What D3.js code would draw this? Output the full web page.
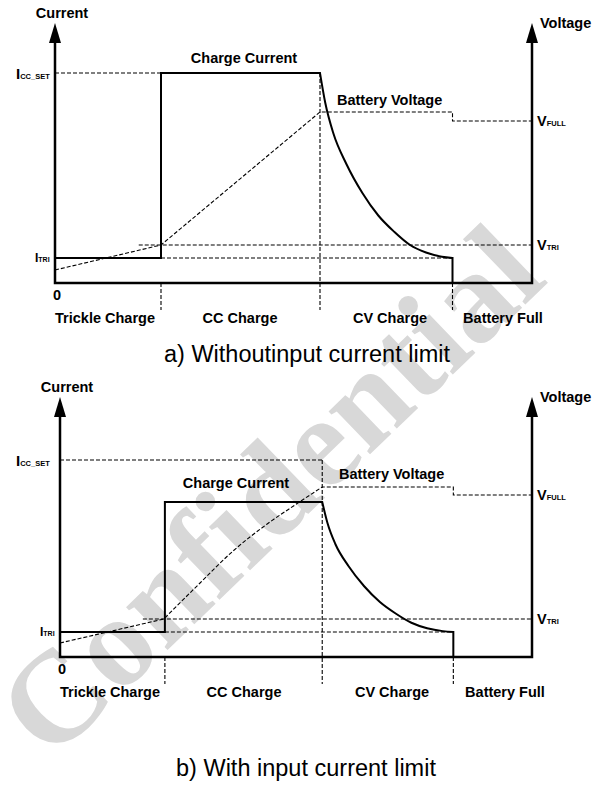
<!DOCTYPE html>
<html><head><meta charset="utf-8">
<script src="https://cdn.jsdelivr.net/npm/d3@7"></script>
<style>
body{margin:0;background:#fff}
svg{display:block}
text{font-family:"Liberation Sans",Arial,sans-serif}
</style>
</head><body>
<svg id="c" width="602" height="785"></svg>
<script>
// ---------- data ----------
const phaseBounds = [0, 2, 5, 7.5, 9];
const phaseLabels = ["Trickle Charge", "CC Charge", "CV Charge", "Battery Full"];
const captions = ["a) Withoutinput current limit", "b) With input current limit"];
const iTri = 1.0;
const vTri = 1.52;
const vFull = 6.48;
const iccSetA = 8.4, chargeA = 8.4;
const iccSetB = 7.88, chargeB = 6.2;
const cvTimeA = [5, 5.1, 5.25, 5.5, 5.8, 6.1, 6.4, 6.7, 7.0, 7.3, 7.5];
const cvCurrentA = [8.4, 7.2, 6.0, 4.75, 3.6, 2.7, 2.05, 1.52, 1.22, 1.05, 1.0];
const cvTimeB = [5, 5.1, 5.25, 5.5, 5.8, 6.1, 6.4, 6.7, 7.0, 7.3, 7.5];
const cvCurrentB = [6.2, 5.36, 4.52, 3.64, 2.83, 2.2, 1.74, 1.37, 1.15, 1.035, 1.0];
const voltTimeA = [0, 2, 5, 7.5, 7.5, 9];
const voltA = [0.52, 1.52, 6.84, 6.84, 6.48, 6.48];
const voltTimeB = [0, 1.98, 2.67, 3.30, 3.95, 4.48, 5.0, 7.5, 7.5, 9];
const voltB = [0.56, 1.52, 2.96, 4.24, 5.32, 6.08, 6.8, 6.8, 6.48, 6.48];

// ---------- drawing ----------
const svg = d3.select("#c");

// watermark
svg.append("text")
  .attr("transform", "translate(300,522) rotate(-44)")
  .attr("text-anchor", "middle")
  .style("font-family", "'Liberation Serif','DejaVu Serif',serif")
  .style("font-weight", "bold")
  .style("font-size", "130px")
  .attr("fill", "#d8d8d8")
  .text("Confidential");

const panels = [
  {dy: 0, left: 55, icc: iccSetA, cc: chargeA, iccEnd: phaseBounds[1],
   cvT: cvTimeA, cvI: cvCurrentA, vT: voltTimeA, vV: voltA, curvedV: null,
   ccLabelX: 244, ccLabelY: 63, bvLabelX: 337,
   phaseX: [105, 240, 390, 503], caption: captions[0], capX: 307, capY: 362},
  {dy: 374, left: 60, icc: iccSetB, cc: chargeB, iccEnd: phaseBounds[2],
   cvT: cvTimeB, cvI: cvCurrentB, vT: voltTimeB, vV: voltB, curvedV: [1, 6],
   ccLabelX: 236, ccLabelY: 114, bvLabelX: 339,
   phaseX: [110, 244, 392, 505], caption: captions[1], capX: 306, capY: 402}
];

function subLabel(g, xPos, yPos, main, sub, mainSize, subSize) {
  const t = g.append("text").attr("x", xPos).attr("y", yPos)
    .style("font-weight", "bold");
  t.append("tspan").style("font-size", mainSize + "px").text(main);
  t.append("tspan").style("font-size", subSize + "px").text(sub);
}

panels.forEach(p => {
  const g = svg.append("g").attr("transform", `translate(0,${p.dy})`);
  const x = d3.scaleLinear().domain([phaseBounds[0], phaseBounds[4]]).range([p.left, 532]);
  const y = d3.scaleLinear().domain([0, 10]).range([283, 33]);
  const lin = d3.line().x(d => x(d[0])).y(d => y(d[1]));
  const mono = d3.line().curve(d3.curveMonotoneX).x(d => x(d[0])).y(d => y(d[1]));
  const dash = s => s.attr("fill", "none").attr("stroke", "#000")
    .attr("stroke-width", 1.1).attr("stroke-dasharray", "4,2");
  const below = -1.08;

  // dashed guides
  g.append("path").attr("d", lin([[0, p.icc], [p.iccEnd, p.icc]])).call(dash);
  g.append("path").attr("d", lin([[phaseBounds[1], iTri], [phaseBounds[3], iTri]])).call(dash);
  g.append("path").attr("d", lin([[1.58, vTri], [phaseBounds[4], vTri]])).call(dash);
  g.append("path").attr("d", lin([[phaseBounds[1], 0], [phaseBounds[1], below]])).call(dash);
  g.append("path").attr("d", lin([[phaseBounds[2], p.icc], [phaseBounds[2], below]])).call(dash);
  g.append("path").attr("d", lin([[phaseBounds[3], 0], [phaseBounds[3], below]])).call(dash);

  // battery voltage (dashed)
  const vPts = p.vT.map((t, i) => [t, p.vV[i]]);
  let vd;
  if (p.curvedV) {
    const [a, b] = p.curvedV;
    vd = lin(vPts.slice(0, a + 1)) +
         mono(vPts.slice(a, b + 1)).replace(/^M/, "L") +
         lin(vPts.slice(b)).replace(/^M/, "L");
  } else {
    vd = lin(vPts);
  }
  g.append("path").attr("d", vd).call(dash);

  // charge current (solid)
  const stepPts = [[0, iTri], [phaseBounds[1], iTri], [phaseBounds[1], p.cc], [phaseBounds[2], p.cc]];
  const cvPts = p.cvT.map((t, i) => [t, p.cvI[i]]);
  const cd = lin(stepPts) + mono(cvPts).replace(/^M/, "L") +
    lin([[phaseBounds[3], iTri], [phaseBounds[3], 0]]).replace(/^M/, "L");
  g.append("path").attr("d", cd).attr("fill", "none").attr("stroke", "#000").attr("stroke-width", 2);

  // axes
  const ax = s => s.attr("fill", "none").attr("stroke", "#000").attr("stroke-width", 2.5);
  const yTip = 10.4, yBase = 9.64;
  g.append("path").attr("d", lin([[0, yBase], [0, 0], [phaseBounds[4], 0], [phaseBounds[4], yBase]])).call(ax)
    .attr("stroke-linejoin", "miter");
  [0, phaseBounds[4]].forEach(t => {
    g.append("path").attr("d",
      `M${x(t)},${y(yTip)}L${x(t) - 6},${y(yBase) + 1}L${x(t) + 6},${y(yBase) + 1}Z`)
      .attr("fill", "#000");
  });

  // axis titles
  g.append("text").attr("x", p.left + 7).attr("y", 18).attr("text-anchor", "middle")
    .style("font-weight", "bold").style("font-size", "14.5px").text("Current");
  g.append("text").attr("x", 540).attr("y", 28)
    .style("font-weight", "bold").style("font-size", "14.5px").text("Voltage");

  // level labels
  subLabel(g, 16, y(p.icc) + 6, "I", "CC_SET", 15, 7.5);
  subLabel(g, p.left - 20, y(iTri) + 4, "I", "TRI", 12, 7);
  subLabel(g, 537, y(vFull) + 5, "V", "FULL", 14.5, 7.5);
  subLabel(g, 537, y(vTri) + 5, "V", "TRI", 14.5, 7.5);

  // curve labels
  g.append("text").attr("x", p.ccLabelX).attr("y", p.ccLabelY).attr("text-anchor", "middle")
    .style("font-weight", "bold").style("font-size", "14.5px").text("Charge Current");
  g.append("text").attr("x", p.bvLabelX).attr("y", 105)
    .style("font-weight", "bold").style("font-size", "14.5px").text("Battery Voltage");

  // zero & phase labels
  g.append("text").attr("x", p.left - 2).attr("y", 300)
    .style("font-weight", "bold").style("font-size", "14.5px").text("0");
  phaseLabels.forEach((s, i) => {
    g.append("text").attr("x", p.phaseX[i]).attr("y", 323).attr("text-anchor", "middle")
      .style("font-weight", "bold").style("font-size", "14.5px").text(s);
  });

  // caption
  g.append("text").attr("x", p.capX).attr("y", p.capY).attr("text-anchor", "middle")
    .style("font-size", "23.5px").text(p.caption);
});
</script>
</body></html>
